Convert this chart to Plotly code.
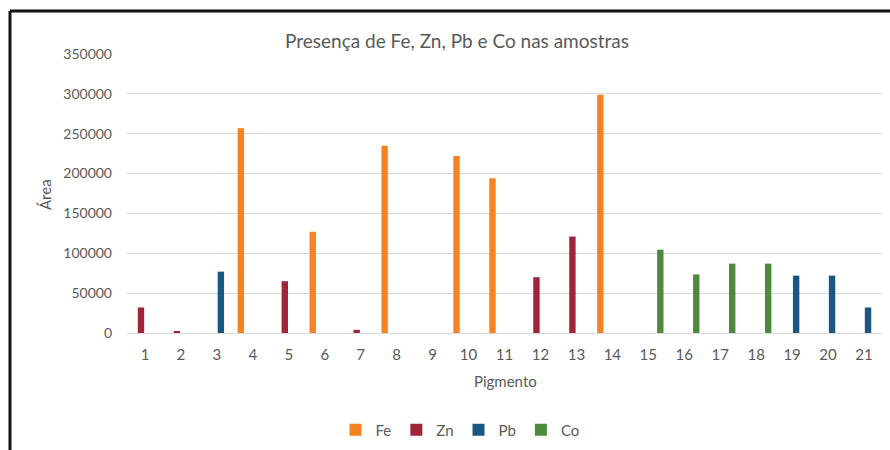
import plotly.graph_objects as go

# Samples (pigments) on the x axis
pigmentos = [str(i) for i in range(1, 22)]

# Peak area per element for each pigment (None = element not detected)
fe = [None, None, None, 257000, None, 127000, None, 235000, None, 222000, 194000,
      None, None, 299000, None, None, None, None, None, None, None]
zn = [32000, 2000, None, None, 65000, None, 4000, None, None, None, None,
      70000, 121000, None, None, None, None, None, None, None, None]
pb = [None, None, 77000, None, None, None, None, None, None, None, None,
      None, None, None, None, None, None, None, 72000, 72000, 32000]
co = [None, None, None, None, None, None, None, None, None, None, None,
      None, None, None, 104500, 73500, 87000, 87000, None, None, None]

series = [
    ("Fe", fe, "#F5841F"),
    ("Zn", zn, "#A2243A"),
    ("Pb", pb, "#1C5782"),
    ("Co", co, "#4E8A3D"),
]

y_ticks = [0, 50000, 100000, 150000, 200000, 250000, 300000, 350000]

W, H = 890, 450
FONT = "Lato"
GREY = "#595959"

fig = go.Figure()
for name, vals, color in series:
    fig.add_trace(go.Bar(
        x=pigmentos, y=vals, name=name,
        marker=dict(color=color, line=dict(width=0)),
    ))

# plot-area edges in pixels
px_l, px_r, px_t, px_b = 127, 882, 54, 333

fig.update_layout(
    width=W, height=H,
    margin=dict(l=0, r=0, t=0, b=0, autoexpand=False),
    paper_bgcolor="white", plot_bgcolor="white",
    barmode="group", bargap=0.11, bargroupgap=0.2,
    font=dict(family=FONT, color=GREY, size=15),
    showlegend=True,
    legend=dict(
        orientation="h", xref="container", yref="container",
        x=460 / W, xanchor="center",
        y=1 - 430 / H, yanchor="middle",
        font=dict(family=FONT, size=15, color=GREY),
        itemwidth=30, traceorder="normal",
    ),
    xaxis=dict(
        domain=[px_l / W, px_r / W], type="category", automargin=False,
        showgrid=False, showline=True, linecolor="#D9D9D9", linewidth=1,
        ticks="", tickfont=dict(family=FONT, size=15, color=GREY),
        ticklabelstandoff=8,
    ),
    yaxis=dict(
        domain=[1 - px_b / H, 1 - px_t / H], range=[0, 350000], automargin=False,
        tickvals=y_ticks, tickformat="d",
        showgrid=True, gridcolor="#D9D9D9", gridwidth=1,
        zeroline=False, showline=False,
        ticks="", tickfont=dict(family=FONT, size=14, color=GREY),
        ticklabelstandoff=14,
    ),
    annotations=[
        dict(text="Presença de Fe, Zn, Pb e Co nas amostras",
             x=457 / W, y=1 - 40 / H, xref="paper", yref="paper",
             xanchor="center", yanchor="middle", showarrow=False,
             font=dict(family=FONT, size=19, color=GREY)),
        dict(text="Área", x=45 / W, y=1 - 195 / H, xref="paper", yref="paper",
             xanchor="center", yanchor="middle", showarrow=False, textangle=-90,
             font=dict(family=FONT, size=15, color=GREY)),
        dict(text="Pigmento", x=505 / W, y=1 - 381 / H, xref="paper", yref="paper",
             xanchor="center", yanchor="middle", showarrow=False,
             font=dict(family=FONT, size=15, color=GREY)),
    ],
    shapes=[
        # chart frame (left and top edges)
        dict(type="line", xref="paper", yref="paper",
             x0=10 / W, x1=10 / W, y0=-0.1, y1=1 - 11 / H,
             line=dict(color="#111111", width=3)),
        dict(type="line", xref="paper", yref="paper",
             x0=10 / W, x1=1.1, y0=1 - 11 / H, y1=1 - 11 / H,
             line=dict(color="#111111", width=3)),
    ],
)

fig.write_html("out.html")
